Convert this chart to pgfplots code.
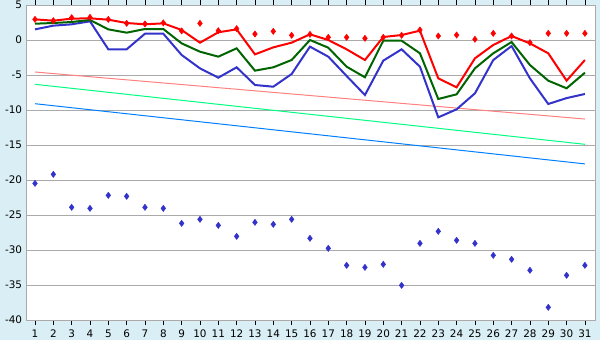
\documentclass[border=0pt]{standalone}
\usepackage{pgfplots}
\pgfplotsset{compat=1.18}
\usepackage{fontspec}
\setmainfont{DejaVu Sans}
\definecolor{bgblue}{RGB}{218,238,245}
\definecolor{gridgray}{RGB}{170,170,170}
\definecolor{dgreen}{RGB}{0,100,0}
\definecolor{sblue}{RGB}{51,51,204}
\definecolor{tpink}{RGB}{255,128,128}
\definecolor{tgreen}{RGB}{0,255,128}
\definecolor{tblue}{RGB}{0,128,255}
\begin{document}
\begin{tikzpicture}
\fill[bgblue] (0,0) rectangle (450pt,255pt);
\useasboundingbox (0,0) rectangle (450pt,255pt);
\begin{axis}[
  at={(20.25pt,15pt)}, anchor=south west,
  scale only axis, width=426pt, height=236.25pt,
  xmin=0.564, xmax=31.55, ymin=-40, ymax=5,
  axis background/.style={fill=white},
  axis line style={gridgray, line width=0.75pt},
  xtick={1,...,31},
  ytick={-40,-35,-30,-25,-20,-15,-10,-5,0,5},
  yticklabels={-40,-35,-30,-25,-20,-15,-10,-5,0,5},
  ymajorgrids, grid style={gridgray, line width=0.75pt},
  tick align=outside,
  xtick style={black, line width=0.6pt},
  major tick length=3.5pt,
  ytick style={draw=none},
  tick label style={font=\fontsize{7.8}{9}\selectfont},
  /pgf/number format/assume math mode=true,
  xticklabel style={yshift=-0.5pt},
  yticklabel style={xshift=1pt, inner sep=1pt},
  clip=false,
]
\addplot[tpink, line width=0.75pt] coordinates {(1,-4.57) (31,-11.29)};
\addplot[tgreen, line width=0.75pt] coordinates {(1,-6.33) (31,-14.9)};
\addplot[tblue, line width=0.75pt] coordinates {(1,-9.1) (31,-17.7)};
\addplot[sblue, line width=1.5pt] coordinates {
(1,1.52)(2,2.05)(3,2.24)(4,2.67)(5,-1.33)(6,-1.33)(7,0.9)(8,0.9)(9,-2.14)(10,-4.05)
(11,-5.38)(12,-3.9)(13,-6.43)(14,-6.67)(15,-4.86)(16,-0.95)(17,-2.38)(18,-5.14)(19,-7.86)(20,-2.95)
(21,-1.33)(22,-3.81)(23,-11.05)(24,-9.9)(25,-7.62)(26,-2.86)(27,-0.86)(28,-5.48)(29,-9.14)(30,-8.3)(31,-7.71)};
\addplot[dgreen, line width=1.5pt] coordinates {
(1,2.33)(2,2.43)(3,2.57)(4,2.86)(5,1.52)(6,1.05)(7,1.57)(8,1.57)(9,-0.48)(10,-1.67)
(11,-2.38)(12,-1.19)(13,-4.38)(14,-3.9)(15,-2.86)(16,0)(17,-1.1)(18,-3.81)(19,-5.33)(20,-0.1)
(21,-0.1)(22,-1.9)(23,-8.43)(24,-7.76)(25,-4.05)(26,-1.9)(27,-0.29)(28,-3.57)(29,-5.81)(30,-6.9)(31,-4.67)};
\addplot[red, line width=1.5pt] coordinates {
(1,2.95)(2,2.76)(3,3.05)(4,3.1)(5,2.9)(6,2.43)(7,2.24)(8,2.38)(9,1.43)(10,-0.38)
(11,1.1)(12,1.52)(13,-2.05)(14,-1.05)(15,-0.38)(16,0.81)(17,0)(18,-1.33)(19,-2.86)(20,0.43)
(21,0.71)(22,1.33)(23,-5.48)(24,-6.76)(25,-2.62)(26,-0.71)(27,0.57)(28,-0.48)(29,-1.9)(30,-5.81)(31,-2.86)};
\addplot[only marks, mark=diamond*, mark size=2.3pt, red] coordinates {
(1,2.95)(2,2.76)(3,3.19)(4,3.24)(5,2.95)(6,2.38)(7,2.3)(8,2.45)(9,1.3)(10,2.38)
(11,1.33)(12,1.62)(13,0.86)(14,1.24)(15,0.67)(16,0.81)(17,0.38)(18,0.38)(19,0.24)(20,0.38)
(21,0.67)(22,1.43)(23,0.57)(24,0.71)(25,0.1)(26,0.95)(27,0.57)(28,-0.38)(29,0.95)(30,0.95)(31,0.95)};
\addplot[only marks, mark=diamond*, mark size=2.3pt, sblue] coordinates {
(1,-20.48)(2,-19.19)(3,-23.9)(4,-24.05)(5,-22.19)(6,-22.33)(7,-23.9)(8,-24.05)(9,-26.19)(10,-25.62)
(11,-26.48)(12,-28.05)(13,-26.05)(14,-26.33)(15,-25.62)(16,-28.33)(17,-29.76)(18,-32.19)(19,-32.48)(20,-32.05)
(21,-35.05)(22,-29.05)(23,-27.33)(24,-28.62)(25,-29.05)(26,-30.76)(27,-31.33)(28,-32.9)(29,-38.19)(30,-33.62)(31,-32.19)};
\end{axis}
\end{tikzpicture}
\end{document}
